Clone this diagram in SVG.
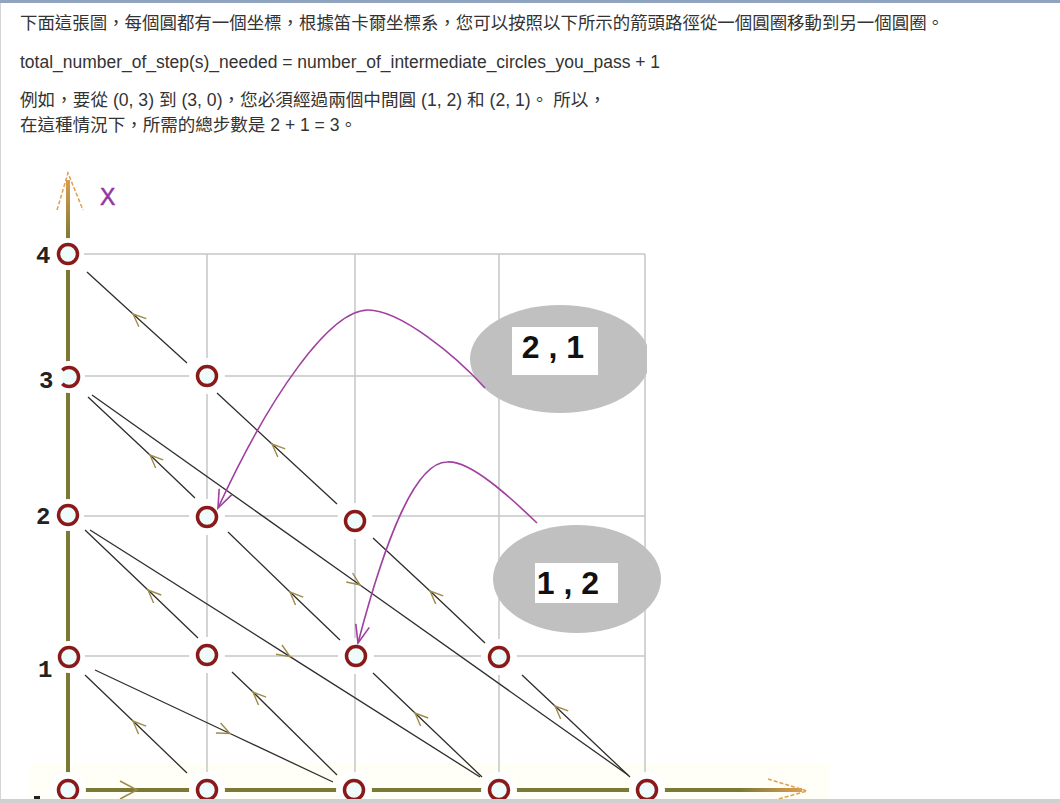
<svg xmlns="http://www.w3.org/2000/svg" width="1060" height="803" viewBox="0 0 1060 803">
<style>
.txt{font-family:"Liberation Sans","Noto Sans CJK TC",sans-serif;font-size:17.5px;fill:#333}
.grid{stroke:#c6c6c6;stroke-width:1.5;fill:none}
.halo{fill:#fff}
.node{fill:#effcfc;stroke:#8a1a1a;stroke-width:3.5}
.lab{font-family:"Liberation Mono",monospace;font-weight:bold;font-size:24px;fill:#222}
.diag{stroke:#2e2e2e;stroke-width:1.3;fill:none;marker-mid:url(#chev)}
.curve{stroke:#a0409f;stroke-width:1.6;fill:none;marker-end:url(#mag)}
.axis{stroke-width:4;fill:none}
.tip{stroke:#e0a050;stroke-width:1.5;fill:none;stroke-dasharray:4 2}
.bubble{fill:#c0c0c0}
.box{fill:#fff}
.btxt{font-family:"Liberation Sans",Arial,sans-serif;font-weight:bold;font-size:32px;fill:#111;text-anchor:middle}
</style>
<defs>
<marker id="chev" markerUnits="userSpaceOnUse" orient="auto" markerWidth="30" markerHeight="30" refX="0" refY="0" viewBox="-15 -15 30 30" overflow="visible">
<path d="M-13,-5.5 L0,0 L-13,5.5" stroke="#a08a48" stroke-width="1.4" fill="none"/>
</marker>
<marker id="mag" markerUnits="userSpaceOnUse" orient="auto" markerWidth="40" markerHeight="40" refX="0" refY="0" viewBox="-20 -20 40 40" overflow="visible">
<path d="M-18,-7 L0,0 L-18,7" stroke="#a0409f" stroke-width="1.6" fill="none"/>
</marker>
<linearGradient id="vgrad" gradientUnits="userSpaceOnUse" x1="0" y1="175" x2="0" y2="240">
<stop offset="0" stop-color="#e0a050"/><stop offset="1" stop-color="#7b7a35"/>
</linearGradient>
<linearGradient id="hgrad" gradientUnits="userSpaceOnUse" x1="740" y1="0" x2="805" y2="0">
<stop offset="0" stop-color="#7b7a35"/><stop offset="1" stop-color="#e0a050"/>
</linearGradient>
<clipPath id="clip21"><rect x="400" y="290" width="247" height="140"/></clipPath>
</defs>

<rect x="0" y="0" width="1060" height="803" fill="#fff"/>
<rect x="0" y="0" width="1060" height="3" fill="#90a4c0"/>
<line x1="0.5" y1="3" x2="0.5" y2="803" stroke="#d4d4d4" stroke-width="1"/>

<g id="intro">
<text class="txt" x="20" y="29" textLength="924" lengthAdjust="spacingAndGlyphs">下面這張圖，每個圓都有一個坐標，根據笛卡爾坐標系，您可以按照以下所示的箭頭路徑從一個圓圈移動到另一個圓圈。</text>
<text class="txt" x="20" y="68" textLength="640" lengthAdjust="spacingAndGlyphs">total_number_of_step(s)_needed = number_of_intermediate_circles_you_pass + 1</text>
<text class="txt" x="20" y="106" textLength="586" lengthAdjust="spacingAndGlyphs">例如，要從 (0, 3) 到 (3, 0)，您必須經過兩個中間圓 (1, 2) 和 (2, 1)。 所以，</text>
<text class="txt" x="20" y="131" textLength="337" lengthAdjust="spacingAndGlyphs">在這種情況下，所需的總步數是 2 + 1 = 3。</text>
</g>

<rect x="30" y="762" width="800" height="38" fill="#fffef7"/>

<g id="grid">
<line class="grid" x1="68" y1="254" x2="645" y2="254"/>
<line class="grid" x1="68" y1="376" x2="645" y2="376"/>
<line class="grid" x1="68" y1="516" x2="645" y2="516"/>
<line class="grid" x1="68" y1="656" x2="645" y2="656"/>
<line class="grid" x1="207" y1="254" x2="207" y2="790"/>
<line class="grid" x1="355" y1="254" x2="355" y2="790"/>
<line class="grid" x1="499" y1="254" x2="499" y2="790"/>
<line class="grid" x1="645" y1="254" x2="645" y2="790"/>
</g>

<g id="axes">
<line class="axis" x1="68" y1="180" x2="68" y2="790" stroke="url(#vgrad)"/>
<path class="tip" d="M57,210 L68,173 L83,210"/>
<line class="axis" x1="68" y1="790" x2="802" y2="790" stroke="url(#hgrad)"/>
<path class="tip" d="M768,779 L807,791 L768,802"/>
<path d="M120,781 L137,790 L120,799" stroke="#a08a48" stroke-width="1.5" fill="none"/>
<text x="100" y="205" font-family="Liberation Sans, sans-serif" font-size="23" fill="#93379f" stroke="#93379f" stroke-width="0.5">X</text>
</g>

<g id="labels">
<text class="lab" x="36" y="263">4</text>
<text class="lab" x="39" y="388">3</text>
<text class="lab" x="36" y="524">2</text>
<text class="lab" x="38" y="677">1</text>
<rect x="34" y="796" width="6" height="3" fill="#222"/>
</g>

<g id="bubble-21">
<ellipse class="bubble" cx="560" cy="359" rx="90" ry="54" clip-path="url(#clip21)"/>
<rect class="box" x="512" y="327" width="86" height="48"/>
<text class="btxt" x="553" y="358">2 , 1</text>
</g>
<g id="bubble-12">
<ellipse class="bubble" cx="577" cy="579" rx="84" ry="54"/>
<rect class="box" x="535" y="563" width="83" height="40"/>
<text class="btxt" x="568" y="594">1 , 2</text>
</g>

<g id="n-0-0"><circle class="halo" cx="68" cy="790" r="18"/><circle class="node" cx="68" cy="790" r="9.5"/></g>
<g id="n-0-1"><circle class="halo" cx="207" cy="790" r="18"/><circle class="node" cx="207" cy="790" r="9.5"/></g>
<g id="n-0-2"><circle class="halo" cx="354" cy="790" r="18"/><circle class="node" cx="354" cy="790" r="9.5"/></g>
<g id="n-0-3"><circle class="halo" cx="499" cy="790" r="18"/><circle class="node" cx="499" cy="790" r="9.5"/></g>
<g id="n-0-4"><circle class="halo" cx="647" cy="790" r="18"/><circle class="node" cx="647" cy="790" r="9.5"/></g>
<g id="n-1-0"><circle class="halo" cx="69" cy="657" r="16"/><circle class="node" cx="69" cy="657" r="9.5"/></g>
<g id="n-1-1"><circle class="halo" cx="207" cy="655" r="18"/><circle class="node" cx="207" cy="655" r="9.5"/></g>
<g id="n-1-2"><circle class="halo" cx="356" cy="656" r="18"/><circle class="node" cx="356" cy="656" r="9.5"/></g>
<g id="n-1-3"><circle class="halo" cx="499" cy="657" r="18"/><circle class="node" cx="499" cy="657" r="9.5"/></g>
<g id="n-2-0"><circle class="halo" cx="68" cy="515" r="16"/><circle class="node" cx="68" cy="515" r="9.5"/></g>
<g id="n-2-1"><circle class="halo" cx="207" cy="517" r="18"/><circle class="node" cx="207" cy="517" r="9.5"/></g>
<g id="n-2-2"><circle class="halo" cx="355" cy="521" r="18"/><circle class="node" cx="355" cy="521" r="9.5"/></g>
<g id="n-3-0"><circle class="halo" cx="69" cy="377" r="16"/><path class="node" fill="none" d="M62.3,370.3 A9.5,9.5 0 1 1 62.3,383.7"/></g>
<g id="n-3-1"><circle class="halo" cx="207" cy="376" r="18"/><circle class="node" cx="207" cy="376" r="9.5"/></g>
<g id="n-4-0"><circle class="halo" cx="68" cy="254" r="16"/><circle class="node" cx="68" cy="254" r="9.5"/></g>

<g id="connectors">
<path class="diag" d="M187,773 L133,721 L85,675"/>
<path class="diag" d="M337,775 L253,692 L232,672"/>
<path class="diag" d="M482,777 L415,713 L373,673"/>
<path class="diag" d="M630,777 L555,706 L522,675"/>
<path class="diag" d="M198,638 L148,590 L85,530"/>
<path class="diag" d="M340,640 L290,592 L228,532"/>
<path class="diag" d="M485,643 L430,591 L373,538"/>
<path class="diag" d="M195,498 L150,455 L88,397"/>
<path class="diag" d="M337,504 L272,444 L217,393"/>
<path class="diag" d="M187,363 L133,314 L87,272"/>
<path class="diag" d="M95,670 L230,733.5 L333,782"/>
<path class="diag" d="M90,530 L290,656.6 L480,777"/>
<path class="diag" d="M92,395 L360,585 L628,775"/>
<path class="curve" d="M485,388 C455,355 400,310 368,310 C330,310 270,395 218,508"/>
<path class="curve" d="M537,523 C510,497 470,460 447,462 C415,462 385,540 358,643"/>
</g>

<rect x="0" y="799" width="1060" height="4" fill="#d0d0d0"/>
</svg>
